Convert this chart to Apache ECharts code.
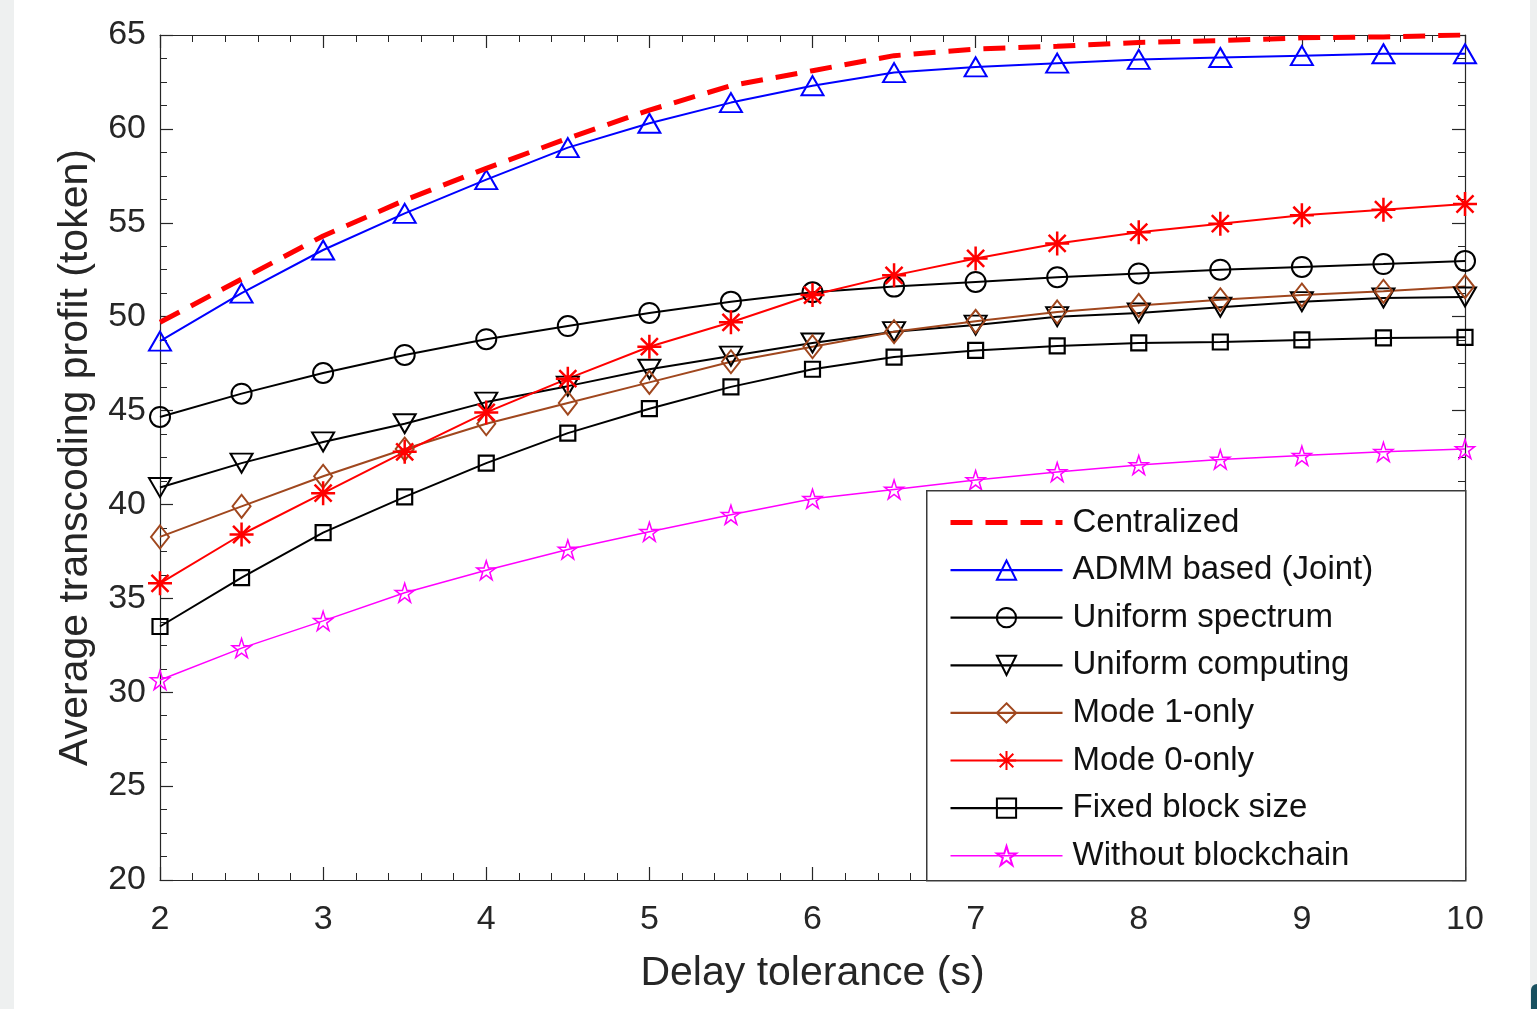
<!DOCTYPE html>
<html>
<head>
<meta charset="utf-8">
<title>Delay tolerance vs profit</title>
<script src="https://cdn.jsdelivr.net/npm/echarts@6.0.0/dist/echarts.min.js"></script>
<style>
  html, body { margin: 0; padding: 0; background: #eef0f0; }
  .card { position: absolute; left: 14px; top: 0; width: 1516px; height: 1009px; background: #fff; }
  .blob { position: absolute; left: 1531px; top: 984px; width: 8px; height: 30px; background: #17505f; border-radius: 6px 0 0 0; }
  #chart { position: absolute; left: 0; top: 0; width: 1537px; height: 1009px; }
</style>
</head>
<body>
<div class="card"></div>
<div class="blob"></div>
<div id="chart"></div>
<script>
// delay tolerance (s)
var delays = [2, 2.5, 3, 3.5, 4, 4.5, 5, 5.5, 6, 6.5, 7, 7.5, 8, 8.5, 9, 9.5, 10]

// average transcoding profit (token)
var centralized = [49.7, 52.0, 54.3, 56.2, 57.9, 59.5, 61.0, 62.3, 63.1, 63.9, 64.25, 64.4, 64.6, 64.7, 64.85, 64.9, 65.0]
var admmJoint = [48.7, 51.25, 53.55, 55.5, 57.3, 59.0, 60.3, 61.4, 62.3, 63.0, 63.3, 63.5, 63.7, 63.8, 63.9, 64.0, 64.0]
var uniformSpectrum = [44.66, 45.9, 47.0, 47.96, 48.8, 49.5, 50.2, 50.8, 51.3, 51.6, 51.85, 52.1, 52.3, 52.5, 52.65, 52.8, 52.97]
var uniformComputing = [40.9, 42.2, 43.33, 44.3, 45.45, 46.3, 47.2, 47.9, 48.6, 49.2, 49.55, 50.0, 50.2, 50.5, 50.8, 51.0, 51.05]
var mode1Only = [38.27, 39.9, 41.5, 42.95, 44.3, 45.4, 46.5, 47.6, 48.4, 49.2, 49.75, 50.25, 50.6, 50.9, 51.15, 51.35, 51.6]
var mode0Only = [35.8, 38.4, 40.6, 42.8, 44.9, 46.7, 48.4, 49.7, 51.15, 52.2, 53.1, 53.9, 54.5, 54.95, 55.4, 55.7, 56.0]
var fixedBlock = [33.5, 36.1, 38.5, 40.4, 42.2, 43.8, 45.1, 46.26, 47.2, 47.85, 48.2, 48.44, 48.6, 48.65, 48.76, 48.87, 48.9]
var noBlockchain = [30.65, 32.35, 33.8, 35.3, 36.5, 37.6, 38.55, 39.45, 40.3, 40.8, 41.3, 41.73, 42.1, 42.4, 42.6, 42.8, 42.95]

var seriesNames = ['Centralized', 'ADMM based (Joint)', 'Uniform spectrum', 'Uniform computing',
  'Mode 1-only', 'Mode 0-only', 'Fixed block size', 'Without blockchain']

// axis ticks
var xMin = 2, xMax = 10, xStep = 1
var yMin = 20, yMax = 65, yStep = 5

// marker shapes (matlab style, unfilled)
var ASTERISK = 'path://M0,-10L0,10M-10,0L10,0M-7.1,-7.1L7.1,7.1M-7.1,7.1L7.1,-7.1'
var STAR = 'path://M0,-10L2.25,-3.09L9.51,-3.09L3.63,1.18L5.88,8.09L0,3.82L-5.88,8.09L-3.63,1.18L-9.51,-3.09L-2.25,-3.09Z'
var DOWN_TRI = 'path://M-10,-8L10,-8L0,9Z'

var FONT = "'Liberation Sans', Arial, Helvetica, sans-serif"
var AXIS_COLOR = '#262626'
var DASH = [22, 13]

function pairs(arr) {
  return delays.map(function (x, i) { return [x, arr[i]] })
}

function makeLine(name, arr, color, symbol, size, width, border) {
  return {
    name: name,
    type: 'line',
    data: pairs(arr),
    symbol: symbol,
    symbolSize: size,
    smooth: false,
    lineStyle: { color: color, width: width },
    itemStyle: { color: 'rgba(0,0,0,0)', borderColor: color, borderWidth: border },
    emphasis: { disabled: true },
    z: 3
  }
}

var series = [
  {
    name: seriesNames[0],
    type: 'line',
    data: pairs(centralized),
    symbol: 'none',
    lineStyle: { color: '#ff0000', width: 5, type: DASH },
    itemStyle: { color: '#ff0000' },
    emphasis: { disabled: true },
    z: 4
  },
  makeLine(seriesNames[1], admmJoint, '#0000ff', 'triangle', [22, 19], 2, 2),
  makeLine(seriesNames[2], uniformSpectrum, '#000000', 'circle', 20, 2, 2),
  makeLine(seriesNames[3], uniformComputing, '#000000', DOWN_TRI, [22, 19], 2, 2),
  makeLine(seriesNames[4], mode1Only, '#a0471e', 'diamond', [18, 23], 2, 2),
  makeLine(seriesNames[5], mode0Only, '#ff0000', ASTERISK, 24, 2, 2.5),
  makeLine(seriesNames[6], fixedBlock, '#000000', 'rect', 15, 2, 2.2),
  makeLine(seriesNames[7], noBlockchain, '#ff00ff', STAR, 19, 1.5, 1.5)
]

// legend entries: centralized has no marker and a thick dashed line
var legendData = seriesNames.map(function (n, i) {
  if (i === 0) {
    return {
      name: n,
      itemStyle: { color: 'rgba(0,0,0,0)', borderColor: 'rgba(0,0,0,0)', borderWidth: 0 },
      lineStyle: { width: 5, type: DASH }
    }
  }
  return { name: n, lineStyle: { width: i === 7 ? 1.5 : 2.2 } }
})

function frameAxis(extra) {
  var base = {
    type: 'value',
    axisLine: { show: true, onZero: false, lineStyle: { color: AXIS_COLOR, width: 1.2 } },
    axisTick: { show: true, inside: true, length: 13, lineStyle: { color: AXIS_COLOR, width: 1.2 } },
    splitLine: { show: false },
    minorSplitLine: { show: false },
    axisLabel: { show: false }
  }
  return Object.assign(base, extra)
}

var myChart = echarts.init(document.getElementById('chart'), null, { renderer: 'canvas' })
var option = {
  animation: false,
  backgroundColor: 'transparent',
  grid: { left: 160, right: 72, top: 35, bottom: 129, containLabel: false },
  xAxis: [
    frameAxis({
      min: xMin, max: xMax, interval: xStep, position: 'bottom',
      minorTick: { show: true, splitNumber: 5, length: 7, lineStyle: { color: AXIS_COLOR, width: 1 } },
      axisLabel: { show: true, color: AXIS_COLOR, fontSize: 34, fontFamily: FONT, margin: 23 },
      name: 'Delay tolerance (s)',
      nameLocation: 'middle',
      nameGap: 73,
      nameTextStyle: { color: AXIS_COLOR, fontSize: 41, fontFamily: FONT }
    }),
    frameAxis({
      min: xMin, max: xMax, interval: xStep, position: 'top',
      minorTick: { show: true, splitNumber: 5, length: 7, lineStyle: { color: AXIS_COLOR, width: 1 } }
    })
  ],
  yAxis: [
    frameAxis({
      min: yMin, max: yMax, interval: yStep, position: 'left',
      minorTick: { show: true, splitNumber: 4, length: 7, lineStyle: { color: AXIS_COLOR, width: 1 } },
      axisLabel: { show: true, color: AXIS_COLOR, fontSize: 34, fontFamily: FONT, margin: 14 },
      name: 'Average transcoding profit (token)',
      nameLocation: 'middle',
      nameGap: 64,
      nameTextStyle: { color: AXIS_COLOR, fontSize: 41, fontFamily: FONT }
    }),
    frameAxis({
      min: yMin, max: yMax, interval: yStep, position: 'right',
      minorTick: { show: true, splitNumber: 4, length: 7, lineStyle: { color: AXIS_COLOR, width: 1 } }
    })
  ],
  legend: {
    data: legendData,
    orient: 'vertical',
    left: 948,
    top: 506,
    padding: 0,
    itemWidth: 112,
    itemHeight: 24,
    itemGap: 14.6,
    selectedMode: false,
    textStyle: { color: '#111', fontSize: 33, fontFamily: FONT, padding: [0, 0, 0, 5] },
    z: 20
  },
  // legend frame
  graphic: [
    {
      type: 'rect',
      left: 926,
      top: 490,
      shape: { width: 539, height: 390 },
      style: { fill: '#fff', stroke: '#3a3a3a', lineWidth: 1.5 },
      z: 10
    }
  ],
  series: series
}
myChart.setOption(option)
</script>
</body>
</html>
